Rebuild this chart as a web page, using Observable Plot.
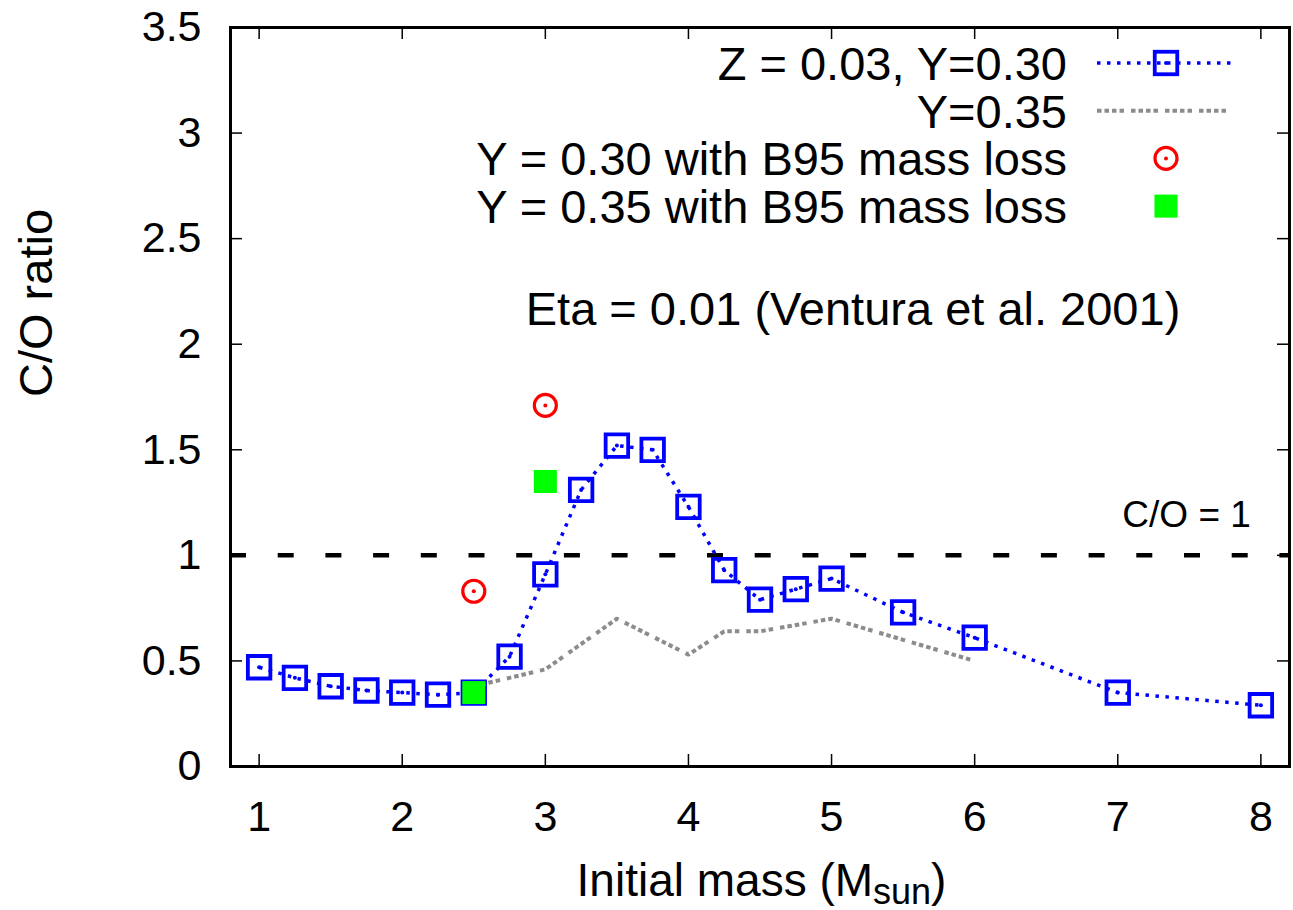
<!DOCTYPE html>
<html>
<head>
<meta charset="utf-8">
<script src="https://cdn.jsdelivr.net/npm/d3@7"></script>
<script src="https://cdn.jsdelivr.net/npm/@observablehq/plot@0.6"></script>
<style>
  html, body { margin: 0; padding: 0; background: #fff; }
  #chart svg { display: block; }
</style>
</head>
<body>
<div id="chart"></div>
<script>
// Z = 0.03, Y = 0.30 models (Eta = 0.01)
const massY30 = [1, 1.25, 1.5, 1.75, 2, 2.25, 2.5, 2.75, 3, 3.25, 3.5, 3.75, 4, 4.25, 4.5, 4.75, 5, 5.5, 6, 7, 8];
const coY30 = [0.47, 0.42, 0.38, 0.36, 0.35, 0.34, 0.35, 0.52, 0.91, 1.31, 1.52, 1.50, 1.23, 0.93, 0.79, 0.84, 0.89, 0.73, 0.61, 0.35, 0.29];

// Y = 0.35 models
const massY35 = [2.5, 3, 3.5, 4, 4.25, 4.5, 5, 5.5, 6];
const coY35 = [0.38, 0.46, 0.70, 0.53, 0.64, 0.64, 0.70, 0.60, 0.50];

// Runs with the B95 mass-loss prescription
const massB95Y30 = [2.5, 3];
const coB95Y30 = [0.83, 1.71];
const massB95Y35 = [2.5, 3];
const coB95Y35 = [0.35, 1.35];

// Axes
const xTicks = [1, 2, 3, 4, 5, 6, 7, 8];
const yTicks = [0, 0.5, 1, 1.5, 2, 2.5, 3, 3.5];
const coThreshold = [1];

// Key entries
const legendLabels = [
  "Z = 0.03, Y=0.30",
  "Y=0.35",
  "Y = 0.30 with B95 mass loss",
  "Y = 0.35 with B95 mass loss"
];

const toRows = (xs, ys) => xs.map((m, i) => ({mass: m, co: ys[i]}));
const rowsY30 = toRows(massY30, coY30);
const rowsY35 = toRows(massY35, coY35);
const rowsB95Y30 = toRows(massB95Y30, coB95Y30);
const rowsB95Y35 = toRows(massB95Y35, coB95Y35);

const W = 1293, H = 910;
const M = {top: 27, right: 4, bottom: 144, left: 230};
const innerW = W - M.left - M.right;
const innerH = H - M.top - M.bottom;
const tickLen = 12;
const FONT = "'Liberation Sans', Arial, Helvetica, sans-serif";

const BLUE = "#0000ff", GRAY = "#8c8c8c", RED = "#ff0000", GREEN = "#00ff00";
const blueDash = "3.5,6.5";
const grayDash = "4.5,3,4.5,3,4.5,3,4.5,7";
const SQ_R = 12.7;   // open square marker radius (Plot symbol units)
const CIRC_R = 11;

const chart = Plot.plot({
  width: W,
  height: H,
  marginTop: M.top,
  marginRight: M.right,
  marginBottom: M.bottom,
  marginLeft: M.left,
  style: {fontFamily: FONT, background: "#fff", color: "#000", overflow: "visible"},
  x: {domain: [0.8, 8.2]},
  y: {domain: [0, 3.5]},
  marks: [
    // C/O = 1 threshold
    Plot.ruleY(coThreshold, {stroke: "#000", strokeWidth: 4.5, strokeDasharray: "16,31.7"}),
    Plot.text(["C/O = 1"], {x: 7.93, y: 1.19, textAnchor: "end", fontSize: 37, fill: "#000"}),

    // Y = 0.30 sequence
    Plot.line(rowsY30, {x: "mass", y: "co", stroke: BLUE, strokeWidth: 3.5, strokeDasharray: blueDash, strokeLinecap: "butt"}),
    Plot.dot(rowsY30, {x: "mass", y: "co", symbol: "square", r: SQ_R, stroke: BLUE, strokeWidth: 3.8, fill: "none"}),
    Plot.dot(rowsY30, {x: "mass", y: "co", r: 2, fill: BLUE, stroke: "none"}),

    // Y = 0.35 sequence
    Plot.line(rowsY35, {x: "mass", y: "co", stroke: GRAY, strokeWidth: 4, strokeDasharray: grayDash, strokeLinecap: "butt"}),

    // B95 mass-loss runs
    Plot.dot(rowsB95Y30, {x: "mass", y: "co", r: CIRC_R, stroke: RED, strokeWidth: 3.2, fill: "none"}),
    Plot.dot(rowsB95Y30, {x: "mass", y: "co", r: 2, fill: RED, stroke: "none"}),
    Plot.dot(rowsB95Y35, {x: "mass", y: "co", symbol: "square", r: 13, fill: GREEN, stroke: "none"}),

    // Annotation
    Plot.text(["Eta = 0.01 (Ventura et al. 2001)"], {x: 5.15, y: 2.16, textAnchor: "middle", fontSize: 47, fill: "#000"}),

    // Inward ticks on all four sides
    Plot.tickY(yTicks, {y: d => d, insetRight: innerW - tickLen, stroke: "#000", strokeWidth: 1.5}),
    Plot.tickY(yTicks, {y: d => d, insetLeft: innerW - tickLen, stroke: "#000", strokeWidth: 1.5}),
    Plot.tickX(xTicks, {x: d => d, insetTop: innerH - tickLen, stroke: "#000", strokeWidth: 1.5}),
    Plot.tickX(xTicks, {x: d => d, insetBottom: innerH - tickLen, stroke: "#000", strokeWidth: 1.5}),

    // Tick labels
    Plot.axisY(yTicks, {tickSize: 0, tickPadding: 29, tickFormat: d => String(d), fontSize: 43, label: null}),
    Plot.axisX(xTicks, {tickSize: 0, tickPadding: 34, tickFormat: d => String(d), fontSize: 43, label: null}),

    // Y axis title
    Plot.text(["C/O ratio"], {frameAnchor: "left", rotate: -90, dx: -194, fontSize: 47, fill: "#000"}),

    Plot.frame({stroke: "#000", strokeWidth: 3})
  ]
});

document.getElementById("chart").appendChild(chart);

const svg = d3.select(chart);

// X axis title with subscript
const xt = svg.append("text")
  .attr("x", (M.left + W - M.right) / 2 + 2)
  .attr("y", 896)
  .attr("text-anchor", "middle")
  .attr("font-family", FONT)
  .attr("font-size", 46)
  .attr("fill", "#000");
xt.append("tspan").text("Initial mass (M");
xt.append("tspan").attr("font-size", 36).attr("dy", 8).text("sun");
xt.append("tspan").attr("dy", -8).text(")");

// Key, top right inside the frame
const key = svg.append("g").attr("font-family", FONT).attr("font-size", 47);
const keyTextX = 1067, keyLineX1 = 1097, keyLineX2 = 1233, keyMarkX = 1166;
const keyRow0 = 63, keyStep = 47.7;
const sqSide = Math.sqrt(Math.PI) * SQ_R;
const greenSide = Math.sqrt(Math.PI) * 13;

legendLabels.forEach((label, i) => {
  const cy = keyRow0 + i * keyStep;
  key.append("text")
    .attr("x", keyTextX)
    .attr("y", cy + 0.358 * 47)
    .attr("text-anchor", "end")
    .attr("fill", "#000")
    .text(label);
  if (i === 0) {
    key.append("line").attr("x1", keyLineX1).attr("x2", keyLineX2).attr("y1", cy).attr("y2", cy)
      .attr("stroke", BLUE).attr("stroke-width", 3.5).attr("stroke-dasharray", blueDash);
    key.append("rect").attr("x", keyMarkX - sqSide / 2).attr("y", cy - sqSide / 2)
      .attr("width", sqSide).attr("height", sqSide)
      .attr("fill", "none").attr("stroke", BLUE).attr("stroke-width", 3.8);
    key.append("circle").attr("cx", keyMarkX).attr("cy", cy).attr("r", 2).attr("fill", BLUE);
  } else if (i === 1) {
    key.append("line").attr("x1", keyLineX1).attr("x2", keyLineX2).attr("y1", cy).attr("y2", cy)
      .attr("stroke", GRAY).attr("stroke-width", 4).attr("stroke-dasharray", grayDash);
  } else if (i === 2) {
    key.append("circle").attr("cx", keyMarkX).attr("cy", cy).attr("r", CIRC_R)
      .attr("fill", "none").attr("stroke", RED).attr("stroke-width", 3.2);
    key.append("circle").attr("cx", keyMarkX).attr("cy", cy).attr("r", 2).attr("fill", RED);
  } else {
    key.append("rect").attr("x", keyMarkX - greenSide / 2).attr("y", cy - greenSide / 2)
      .attr("width", greenSide).attr("height", greenSide).attr("fill", GREEN);
  }
});
</script>
</body>
</html>
